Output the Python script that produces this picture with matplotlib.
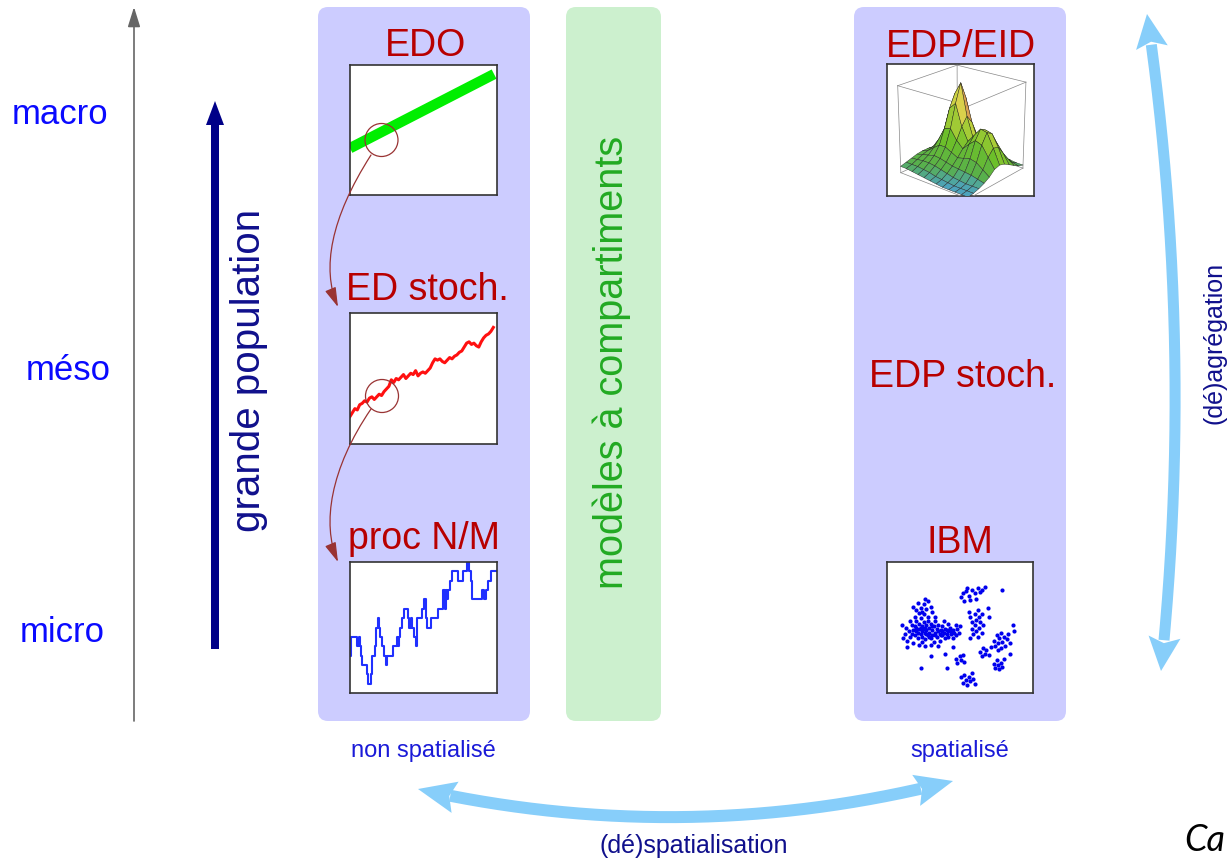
import numpy as np
import matplotlib
matplotlib.use('Agg')
import matplotlib.pyplot as plt
from matplotlib.patches import FancyBboxPatch, Circle, FancyArrowPatch, Polygon
from matplotlib.path import Path
from matplotlib.colors import LinearSegmentedColormap

plt.rcParams['font.family'] = ['Liberation Sans', 'DejaVu Sans']

W, H = 1231, 862

# --- textes ---
niveaux = ['macro', 'méso', 'micro']
modeles_gauche = ['EDO', 'ED stoch.', 'proc N/M']
modeles_droite = ['EDP/EID', 'EDP stoch.', 'IBM']
label_milieu = 'modèles à compartiments'
label_pop = 'grande population'
label_agreg = '(dé)agrégation'
label_spat = '(dé)spatialisation'
label_nonspat = 'non spatialisé'
label_spatialise = 'spatialisé'

# --- EDO : solution deterministe ---
edo_t = [0.0, 0.98]
edo_x = [0.36, 0.93]

# --- ED stochastique ---
eds_x = [.21, .24, .27, .26, .30, .31, .33, .32, .35, .36, .34, .36, .38, .37, .40,
         .42, .44, .49, .47, .50, .49, .51, .53, .50, .52, .54, .53, .56, .52, .54,
         .55, .54, .56, .58, .62, .65, .64, .65, .63, .62, .64, .66, .65, .67, .68,
         .70, .71, .74, .77, .78, .76, .77, .75, .74, .78, .81, .83, .84, .86, .89]

# --- processus de naissance / mort (N/M) ---
nm_t = [0, .7, 4.5, 6.1, 7, 7.7, 8.4, 11.4, 12.7, 14.1, 15, 17.3, 18.2, 19.1, 19.8,
        20.5, 22, 23.4, 24.5, 25.2, 29.5, 32.3, 33.2, 33.9, 34.5, 35.5, 36.8, 39.8,
        40.7, 41.8, 42.7, 43.9, 45.2, 45.9, 49.5, 51.1, 52, 53, 55.7, 60.7, 64.1,
        65, 65.7, 66.6, 67.5, 68.6, 70.2, 74.3, 77.5, 80.5, 81.8, 83.2, 84.1, 90.9,
        91.8, 93.2, 94.8, 97, 100]
nm_n = [4, 6, 5, 6, 5, 4, 3, 2, 1, 2, 4, 5, 7, 8, 7,
        6, 5, 4, 3, 4, 5, 6, 5, 6, 7, 8, 9, 8,
        7, 8, 7, 6, 5, 8, 9, 10, 8, 7, 8, 9, 11,
        9, 11, 10, 11, 12, 13, 12, 13, 14, 13, 12, 10, 11,
        10, 11, 12, 13, 13]

# --- EDP/EID : densite (grille) ---
edp_z = np.array([
    [.08, .08, .07, .06, .05, .04, .03, .02, .02, .02, .02, .02],
    [.10, .10, .10, .09, .08, .06, .05, .04, .03, .03, .03, .03],
    [.12, .13, .14, .14, .13, .11, .09, .07, .06, .05, .05, .05],
    [.14, .16, .18, .20, .19, .17, .15, .14, .13, .12, .10, .08],
    [.15, .18, .24, .30, .30, .26, .22, .24, .26, .24, .18, .12],
    [.15, .20, .32, .48, .50, .38, .30, .38, .45, .42, .30, .18],
    [.14, .22, .40, .70, .78, .52, .36, .46, .56, .54, .38, .20],
    [.12, .20, .42, .85, 1.0, .62, .38, .44, .52, .50, .36, .18],
    [.10, .16, .34, .66, .80, .52, .32, .34, .38, .36, .26, .14],
    [.08, .12, .22, .38, .46, .34, .22, .20, .22, .20, .16, .10],
    [.06, .08, .12, .18, .22, .18, .12, .10, .10, .10, .08, .06],
    [.04, .05, .06, .08, .10, .08, .06, .05, .05, .05, .04, .04]])

# --- IBM : positions des individus ---
ibm_pts = [
    (12, 45), (14, 40), (13, 50), (15, 47), (16, 43), (17, 52), (18, 48), (19, 44), (20, 55), (20, 50),
    (21, 46), (21, 42), (22, 53), (22, 49), (23, 45), (23, 57), (24, 51), (24, 47), (24, 43), (25, 54),
    (25, 49), (26, 46), (26, 41), (27, 52), (27, 48), (28, 44), (28, 55), (29, 50), (29, 46), (30, 42),
    (30, 53), (31, 48), (31, 44), (32, 51), (32, 39), (33, 46), (33, 55), (34, 43), (34, 49), (35, 52),
    (36, 45), (36, 40), (37, 48), (38, 44), (38, 51), (39, 46), (40, 42), (40, 49), (41, 45), (42, 47),
    (42, 43), (43, 50), (44, 45), (45, 48), (45, 42), (46, 46), (47, 44), (48, 49), (49, 46), (50, 51),
    (18, 38), (22, 37), (26, 36), (16, 55), (19, 58), (14, 35), (11, 42), (24, 39), (30, 37), (35, 36),
    (28, 58), (25, 60), (33, 58), (39, 55), (42, 53), (47, 52), (20, 47), (23, 50), (27, 45), (31, 51),
    (35, 47), (37, 44), (41, 48), (44, 47), (26, 50), (29, 43), (33, 44), (19, 51), (17, 45), (38, 47),
    (18, 66), (20, 63), (21, 69), (23, 65), (24, 62), (25, 68), (27, 64), (28, 70), (30, 66), (31, 62),
    (22, 61), (26, 72),
    (51, 73), (52, 76), (53, 70), (54, 78), (56, 74), (57, 71), (58, 79), (60, 76), (61, 72), (62, 80),
    (64, 77), (65, 79), (67, 81), (55, 80),
    (56, 62), (57, 58), (58, 54), (58, 49), (59, 45), (60, 60), (60, 52), (61, 56), (61, 47), (62, 43),
    (62, 63), (63, 58), (63, 50), (64, 54), (65, 46), (65, 60), (66, 52), (57, 42),
    (73, 40), (74, 36), (75, 44), (76, 38), (77, 42), (78, 46), (78, 34), (79, 39), (80, 43), (81, 36),
    (82, 41), (83, 45), (84, 38), (76, 33),
    (73, 22), (74, 19), (75, 25), (76, 21), (77, 18), (78, 23), (79, 20), (80, 26),
    (51, 12), (52, 8), (53, 14), (54, 10), (55, 6), (56, 12), (57, 9), (58, 15), (59, 11), (60, 7),
    (47, 26), (48, 23), (50, 28), (51, 25), (52, 29), (53, 24),
    (64, 31), (65, 28), (66, 34), (67, 30), (68, 33), (70, 29), (71, 35),
    (79, 79), (86, 52), (87, 47), (23, 19), (10, 52), (41, 19), (45, 35), (70, 58), (40, 30), (30, 28),
    (69, 65), (84, 30)]

LAV = '#ccccff'
VERT = '#ccf0ce'
ROUGE = '#b80000'
BLEU = '#0a0aff'
MARINE = '#10108c'
CIEL = '#87cefa'
BRUN = '#993333'


def px_rect(x0, y0, x1, y1):
    return [x0 / W, 1 - y1 / H, (x1 - x0) / W, (y1 - y0) / H]


def inset(x0, y0, x1, y1):
    a = fig.add_axes(px_rect(x0, y0, x1, y1), zorder=2)
    a.set_xticks([])
    a.set_yticks([])
    a.set_facecolor('white')
    for s in a.spines.values():
        s.set_color('#333333')
        s.set_linewidth(1.2)
    return a


def double_fleche(a, p0, c, p2, larg, L, hw, color):
    p0, c, p2 = map(np.array, (p0, c, p2))
    t = np.linspace(0, 1, 300)[:, None]
    pts = (1 - t) ** 2 * p0 + 2 * (1 - t) * t * c + t ** 2 * p2
    s = np.r_[0, np.cumsum(np.hypot(*np.diff(pts, axis=0).T))]
    keep = (s > L * 0.85) & (s < s[-1] - L * 0.85)
    a.plot(pts[keep, 0], pts[keep, 1], color=color, lw=larg * 0.72, solid_capstyle='butt')
    for tip, d in ((p0, p0 - c), (p2, p2 - c)):
        u = d / np.hypot(*d)
        n = np.array([-u[1], u[0]])
        b = tip - L * u
        a.add_patch(Polygon([tip, b + n * hw / 2, b + u * 6, b - n * hw / 2],
                            closed=True, fc=color, ec='none'))


fig = plt.figure(figsize=(W / 100, H / 100), dpi=100)
ax = fig.add_axes([0, 0, 1, 1])
ax.set_xlim(0, W)
ax.set_ylim(H, 0)
ax.axis('off')

# panneaux
for x0, x1, col in [(318, 530, LAV), (566, 661, VERT), (854, 1066, LAV)]:
    ax.add_patch(FancyBboxPatch((x0, 8), x1 - x0, 714, boxstyle='round,pad=0,rounding_size=10',
                                fc=col, ec='none'))

# axe des echelles
ax.annotate('', xy=(134, 8), xytext=(134, 722),
            arrowprops=dict(arrowstyle='-|>,head_length=0.8,head_width=0.25', color='#666666',
                            lw=1.2, mutation_scale=15, shrinkA=0, shrinkB=0))
for lab, x, y in zip(niveaux, [60, 68, 62], [124, 380, 642]):
    ax.text(x, y, lab, color=BLEU, fontsize=25, ha='center', va='baseline')

# grande population
ax.arrow(215, 650, 0, -548, width=8, head_width=18, head_length=24,
         length_includes_head=True, fc='#000088', ec='none')
ax.text(249, 370, label_pop, color=MARINE, fontsize=29, rotation=90, ha='center', va='center')

# titres des modeles
for lab, x, y in zip(modeles_gauche, [425, 427, 424], [56, 300, 549]):
    ax.text(x, y, lab, color=ROUGE, fontsize=27, ha='center', va='baseline')
for lab, x, y in zip(modeles_droite, [961, 963, 960], [57, 387, 553]):
    ax.text(x, y, lab, color=ROUGE, fontsize=27, ha='center', va='baseline')

ax.text(612, 362, label_milieu, color='#22aa22', fontsize=28.5, rotation=90,
        ha='center', va='center')

ax.text(423, 757, label_nonspat, color='#1a1ad8', fontsize=17, ha='center', va='baseline')
ax.text(960, 757, label_spatialise, color='#1a1ad8', fontsize=17, ha='center', va='baseline')
ax.text(694, 853, label_spat, color=MARINE, fontsize=18, ha='center', va='baseline')
ax.text(1215, 343, label_agreg, color=MARINE, fontsize=18, rotation=90, ha='center', va='center')
ax.text(1184, 851, 'Ca', family='Lato', style='italic', fontsize=26, color='black',
        ha='left', va='baseline')

# fleches bleu ciel
double_fleche(ax, (1147, 15), (1195, 343), (1161, 672), 11, 34, 32, CIEL)
double_fleche(ax, (418, 790), (686, 850), (953, 782), 12, 38, 32, CIEL)

# --- encarts ---
a1 = inset(350, 66, 497, 196)
a1.plot(edo_t, edo_x, color='#00ee00', lw=7.5, solid_capstyle='butt')
a1.set_xlim(0, 1)
a1.set_ylim(0, 1)

a2 = inset(350, 314, 497, 445)
a2.plot(range(len(eds_x)), eds_x, color='#ff1010', lw=2.2)
a2.set_xlim(0, len(eds_x) + 0.5)
a2.set_ylim(0, 1)

a3 = inset(350, 563, 497, 694)
a3.plot(nm_t, nm_n, color='#2030ff', lw=1.5, drawstyle='steps-post')
a3.set_xlim(0, 101)
a3.set_ylim(0, 14)

a5 = inset(887, 563, 1033, 694)
a5.scatter([p[0] for p in ibm_pts], [p[1] for p in ibm_pts], s=9, color='#0000ee', lw=0)
a5.set_xlim(0, 100)
a5.set_ylim(0, 100)

fond = inset(887, 65, 1034, 197)
a4 = fig.add_axes(px_rect(887, 65, 1034, 197), projection='3d', zorder=3)
a4.patch.set_alpha(0)
a4.set_axis_off()
cm = LinearSegmentedColormap.from_list('dens', [(0, '#4aa0d8'), (0.1, '#58b04a'), (0.3, '#6cbf2a'),
                                                (0.6, '#b9d03a'), (0.85, '#e6d252'), (1, '#d8a050')])
ny, nx = edp_z.shape
gx, gy = np.meshgrid(np.arange(nx), np.arange(ny))
surf = a4.plot_surface(gx, gy, edp_z, facecolors=cm(edp_z / edp_z.max()), edgecolor='#222222',
                       linewidth=0.3, shade=False)
surf.set_clip_path(fond.patch)
# cadre du cube
xm, ym, zm = nx - 1, ny - 1, edp_z.max() * 1.05
for (x0, y0, z0), (x1, y1, z1) in [
        ((0, 0, 0), (xm, 0, 0)), ((0, 0, 0), (0, ym, 0)), ((xm, 0, 0), (xm, ym, 0)),
        ((0, ym, 0), (xm, ym, 0)), ((0, 0, zm), (xm, 0, zm)), ((0, 0, zm), (0, ym, zm)),
        ((xm, 0, zm), (xm, ym, zm)), ((0, ym, zm), (xm, ym, zm)), ((0, 0, 0), (0, 0, zm)),
        ((xm, 0, 0), (xm, 0, zm)), ((0, ym, 0), (0, ym, zm)), ((xm, ym, 0), (xm, ym, zm))]:
    ln, = a4.plot([x0, x1], [y0, y1], [z0, z1], color='#888888', lw=0.5)
    ln.set_clip_path(fond.patch)
a4.set_xlim(0, xm)
a4.set_ylim(0, ym)
a4.set_zlim(0, zm)
a4.view_init(elev=22, azim=-50)
a4.set_box_aspect((1, 1, 1.05), zoom=1.15)

# --- loupes et fleches fines ---
top = fig.add_axes([0, 0, 1, 1], zorder=6)
top.set_xlim(0, W)
top.set_ylim(H, 0)
top.axis('off')
top.patch.set_alpha(0)
top.add_patch(Circle((381.5, 141), 16.5, fill=False, ec=BRUN, lw=0.9))
top.add_patch(Circle((382, 397), 16.5, fill=False, ec=BRUN, lw=0.9))
for verts in ([(371, 156), (330, 220), (322, 270), (338, 308)],
              [(371, 410), (330, 470), (322, 525), (338, 563)]):
    p = Path(verts, [Path.MOVETO, Path.CURVE4, Path.CURVE4, Path.CURVE4])
    top.add_patch(FancyArrowPatch(path=p, arrowstyle='-|>,head_length=1.2,head_width=0.35',
                                  mutation_scale=10, color=BRUN, lw=0.9, shrinkA=0, shrinkB=0))

fig.savefig('out.png', dpi=100)
